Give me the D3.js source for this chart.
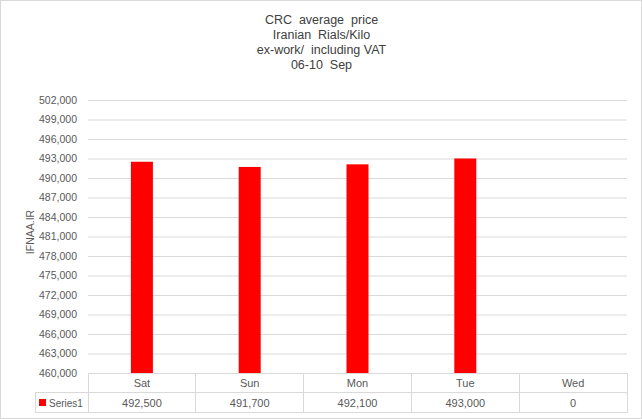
<!DOCTYPE html>
<html><head><meta charset="utf-8">
<script src="https://cdn.jsdelivr.net/npm/d3@7"></script>
<style>body{margin:0;background:#fff}svg{display:block}</style>
</head><body>
<script>
const categories = ["Sat","Sun","Mon","Tue","Wed"];
const values = [492500, 491700, 492100, 493000, 0];
const seriesName = "Series1";
const titleLines = ["CRC  average  price","Iranian  Rials/Kilo","ex-work/  including VAT","06-10  Sep"];
const yTicks = [460000,463000,466000,469000,472000,475000,478000,481000,484000,487000,490000,493000,496000,499000,502000];
const yLabel = "IFNAA.IR";

(function(){
const W=642,H=419;
const svg=d3.select("body").append("svg").attr("width",W).attr("height",H);
svg.append("rect").attr("x",0.5).attr("y",0.5).attr("width",W-1).attr("height",H-1).attr("fill","#fff").attr("stroke","#d9d9d9");

const pL=88,pR=627,pT=100,pB=373;
const x=d3.scaleBand().domain(categories).range([pL,pR]);
const y=d3.scaleLinear().domain([460000,502000]).range([pB,pT]);

const fontLbl="'Liberation Sans', Arial, sans-serif";
svg.append("g").selectAll("text").data(titleLines).join("text")
  .attr("x",W/2+0.5).attr("y",(d,i)=>23.5+i*15).attr("text-anchor","middle")
  .attr("font-family",fontLbl).attr("font-size",12.5).attr("fill","#404040").style("white-space","pre")
  .text(d=>d);

const yAxis=d3.axisLeft(y).tickValues(yTicks).tickSize(-(pR-pL)).tickFormat(d3.format(","));
const ga=svg.append("g").attr("transform",`translate(${pL},0)`).call(yAxis);
ga.select(".domain").remove();
ga.selectAll(".tick line").attr("stroke","#d9d9d9");
ga.selectAll(".tick text").attr("x",-11).attr("font-family",fontLbl).attr("font-size",10.5).attr("fill","#595959");

const bw=22;
svg.append("g").selectAll("rect").data(values).join("rect")
  .attr("x",(d,i)=>x(categories[i])+x.bandwidth()/2-bw/2)
  .attr("y",d=>y(Math.max(d,460000)))
  .attr("width",bw)
  .attr("height",d=>y(460000)-y(Math.max(d,460000)))
  .attr("fill","#ff0000");

svg.append("text").attr("transform",`translate(34,232) rotate(-90)`)
  .attr("text-anchor","middle").attr("font-family",fontLbl).attr("font-size",10.5).attr("fill","#595959").text(yLabel);

const row1=pB, row2=pB+19.5, row3=pB+39.5, legL=35;
const tg=svg.append("g").attr("stroke","#d9d9d9").attr("fill","none").attr("shape-rendering","crispEdges");
tg.append("line").attr("x1",pL).attr("x2",pR).attr("y1",row1).attr("y2",row1);
tg.append("line").attr("x1",legL).attr("x2",pR).attr("y1",row2).attr("y2",row2);
tg.append("line").attr("x1",legL).attr("x2",pR).attr("y1",row3).attr("y2",row3);
tg.append("line").attr("x1",legL).attr("x2",legL).attr("y1",row2).attr("y2",row3);
categories.forEach(c=>{
  tg.append("line").attr("x1",x(c)).attr("x2",x(c)).attr("y1",row1).attr("y2",row3);
});
tg.append("line").attr("x1",pR).attr("x2",pR).attr("y1",row1).attr("y2",row3);

svg.append("g").selectAll("text").data(categories).join("text")
  .attr("x",d=>x(d)+x.bandwidth()/2).attr("y",row1+14).attr("text-anchor","middle")
  .attr("font-family",fontLbl).attr("font-size",11).attr("fill","#595959").text(d=>d);
svg.append("g").selectAll("text").data(values).join("text")
  .attr("x",(d,i)=>x(categories[i])+x.bandwidth()/2).attr("y",row2+14).attr("text-anchor","middle")
  .attr("font-family",fontLbl).attr("font-size",11).attr("fill","#595959").text(d=>d3.format(",")(d));
svg.append("rect").attr("x",39).attr("y",row2+6.5).attr("width",7).attr("height",7).attr("fill","#ff0000");
svg.append("text").attr("x",49).attr("y",row2+14).attr("font-family",fontLbl).attr("font-size",10).attr("fill","#595959").text(seriesName);
})();
</script>
</body></html>
